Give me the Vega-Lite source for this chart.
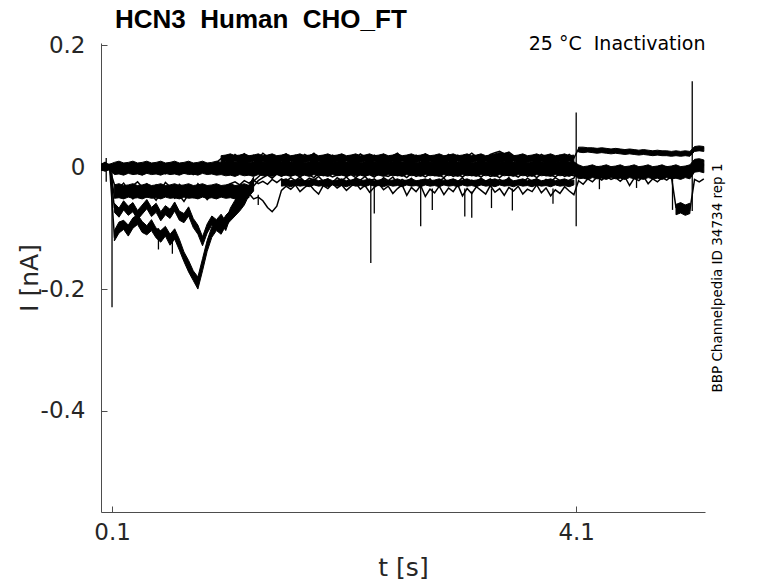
{
  "$schema": "https://vega.github.io/schema/vega-lite/v6.json",
  "description": "HCN3 Human CHO_FT inactivation current traces",
  "width": 604,
  "height": 469,
  "autosize": {"type": "none"},
  "padding": {"left": 101, "top": 43, "right": 73, "bottom": 71},
  "title": {
    "text": "HCN3 \u00a0Human \u00a0CHO_FT",
    "anchor": "start",
    "frame": "group",
    "dx": 14,
    "font": "Liberation Sans",
    "fontSize": 26,
    "fontWeight": "bold",
    "color": "#000000",
    "baseline": "alphabetic",
    "offset": -20
  },
  "config": {"view": {"stroke": null}},
  "datasets": {
    "traces": [
      {"t":0.00,"a":0.003,"b":-0.002,"c":0.004,"d":0.001,"e":-0.002,"f":0.002,"g":0.000,"h":-0.003,"z0":-0.005,"z1":0.005},
      {"t":0.04,"a":0.006,"b":-0.004,"c":0.008,"d":-0.006,"e":0.001,"f":-0.005,"g":0.003,"h":0.002,"z0":-0.006,"z1":0.006},
      {"t":0.08,"a":-0.001,"b":0.003,"c":0.002,"d":-0.003,"e":-0.004,"f":0.004,"g":-0.002,"h":0.001,"z0":-0.004,"z1":0.005},
      {"t":0.12,"a":0.004,"b":-0.003,"c":0.005,"d":-0.009,"e":-0.028,"f":-0.048,"g":-0.112,"h":-0.066,"z0":-0.012,"z1":0.008,"l0":-0.051,"l1":-0.029,"g0":-0.121,"g1":-0.104,"h0":-0.074,"h1":-0.059},
      {"t":0.16,"a":0.001,"b":-0.006,"c":0.002,"d":-0.005,"e":-0.034,"f":-0.041,"g":-0.098,"h":-0.074,"z0":-0.011,"z1":0.010,"l0":-0.050,"l1":-0.027,"g0":-0.108,"g1":-0.090,"h0":-0.082,"h1":-0.067},
      {"t":0.20,"a":0.005,"b":-0.001,"c":0.006,"d":-0.011,"e":-0.026,"f":-0.050,"g":-0.094,"h":-0.062,"z0":-0.013,"z1":0.007,"l0":-0.052,"l1":-0.030,"g0":-0.102,"g1":-0.087,"h0":-0.070,"h1":-0.055},
      {"t":0.24,"a":0.000,"b":-0.005,"c":0.003,"d":-0.007,"e":-0.037,"f":-0.043,"g":-0.103,"h":-0.071,"z0":-0.010,"z1":0.008,"l0":-0.049,"l1":-0.029,"g0":-0.113,"g1":-0.095,"h0":-0.079,"h1":-0.064},
      {"t":0.28,"a":0.003,"b":-0.002,"c":0.007,"d":-0.010,"e":-0.030,"f":-0.052,"g":-0.090,"h":-0.065,"z0":-0.012,"z1":0.010,"l0":-0.051,"l1":-0.027,"g0":-0.100,"g1":-0.083,"h0":-0.073,"h1":-0.058},
      {"t":0.32,"a":0.002,"b":-0.004,"c":0.004,"d":-0.006,"e":-0.024,"f":-0.044,"g":-0.086,"h":-0.078,"z0":-0.011,"z1":0.007,"l0":-0.050,"l1":-0.030,"g0":-0.094,"g1":-0.078,"h0":-0.086,"h1":-0.071},
      {"t":0.36,"a":0.006,"b":-0.001,"c":0.001,"d":-0.012,"e":-0.033,"f":-0.039,"g":-0.097,"h":-0.069,"z0":-0.013,"z1":0.008,"l0":-0.052,"l1":-0.029,"g0":-0.107,"g1":-0.089,"h0":-0.077,"h1":-0.062},
      {"t":0.40,"a":-0.001,"b":-0.005,"c":0.005,"d":-0.008,"e":-0.027,"f":-0.049,"g":-0.102,"h":-0.060,"z0":-0.010,"z1":0.010,"l0":-0.049,"l1":-0.027,"g0":-0.111,"g1":-0.096,"h0":-0.068,"h1":-0.053},
      {"t":0.44,"a":0.004,"b":-0.003,"c":0.003,"d":-0.005,"e":-0.036,"f":-0.045,"g":-0.094,"h":-0.073,"z0":-0.012,"z1":0.007,"l0":-0.051,"l1":-0.030,"g0":-0.104,"g1":-0.086,"h0":-0.081,"h1":-0.066},
      {"t":0.48,"a":0.001,"b":-0.002,"c":0.006,"d":-0.010,"e":-0.029,"f":-0.054,"g":-0.108,"h":-0.066,"z0":-0.011,"z1":0.008,"l0":-0.050,"l1":-0.029,"g0":-0.116,"g1":-0.100,"h0":-0.074,"h1":-0.059},
      {"t":0.52,"a":0.005,"b":-0.006,"c":0.002,"d":-0.007,"e":-0.038,"f":-0.042,"g":-0.112,"h":-0.080,"z0":-0.013,"z1":0.010,"l0":-0.052,"l1":-0.027,"g0":-0.123,"g1":-0.104,"h0":-0.088,"h1":-0.073},
      {"t":0.56,"a":0.002,"b":-0.001,"c":0.004,"d":-0.011,"e":-0.025,"f":-0.047,"g":-0.104,"h":-0.070,"z0":-0.010,"z1":0.007,"l0":-0.049,"l1":-0.030,"g0":-0.113,"g1":-0.097,"h0":-0.078,"h1":-0.063},
      {"t":0.60,"a":0.000,"b":-0.004,"c":0.007,"d":-0.006,"e":-0.032,"f":-0.040,"g":-0.118,"h":-0.076,"z0":-0.012,"z1":0.008,"l0":-0.051,"l1":-0.029,"g0":-0.128,"g1":-0.110,"h0":-0.084,"h1":-0.069},
      {"t":0.64,"a":0.004,"b":-0.003,"c":0.003,"d":-0.009,"e":-0.040,"f":-0.051,"g":-0.109,"h":-0.064,"z0":-0.011,"z1":0.010,"l0":-0.050,"l1":-0.027,"g0":-0.118,"g1":-0.101,"h0":-0.072,"h1":-0.057},
      {"t":0.68,"a":0.002,"b":-0.005,"c":0.005,"d":-0.006,"e":-0.028,"f":-0.046,"g":-0.126,"h":-0.079,"z0":-0.013,"z1":0.007,"l0":-0.052,"l1":-0.030,"g0":-0.136,"g1":-0.118,"h0":-0.087,"h1":-0.072},
      {"t":0.72,"a":0.005,"b":-0.002,"c":0.002,"d":-0.010,"e":-0.034,"f":-0.056,"g":-0.146,"h":-0.083,"z0":-0.010,"z1":0.008,"l0":-0.049,"l1":-0.029,"g0":-0.155,"g1":-0.139,"h0":-0.091,"h1":-0.076},
      {"t":0.76,"a":0.001,"b":-0.004,"c":0.006,"d":-0.007,"e":-0.030,"f":-0.044,"g":-0.162,"h":-0.072,"z0":-0.012,"z1":0.010,"l0":-0.051,"l1":-0.027,"g0":-0.172,"g1":-0.153,"h0":-0.080,"h1":-0.065},
      {"t":0.80,"a":0.003,"b":-0.001,"c":0.003,"d":-0.012,"e":-0.039,"f":-0.050,"g":-0.178,"h":-0.091,"z0":-0.011,"z1":0.007,"l0":-0.050,"l1":-0.030,"g0":-0.186,"g1":-0.170,"h0":-0.099,"h1":-0.084},
      {"t":0.84,"a":0.000,"b":-0.005,"c":0.005,"d":-0.008,"e":-0.027,"f":-0.048,"g":-0.192,"h":-0.102,"z0":-0.013,"z1":0.008,"l0":-0.052,"l1":-0.029,"g0":-0.200,"g1":-0.180,"h0":-0.110,"h1":-0.095},
      {"t":0.88,"a":0.004,"b":-0.003,"c":0.002,"d":-0.005,"e":-0.035,"f":-0.043,"g":-0.158,"h":-0.121,"z0":-0.010,"z1":0.010,"l0":-0.049,"l1":-0.027,"g0":-0.170,"g1":-0.150,"h0":-0.129,"h1":-0.114},
      {"t":0.92,"a":0.002,"b":-0.002,"c":0.006,"d":-0.010,"e":-0.031,"f":-0.053,"g":-0.128,"h":-0.100,"z0":-0.012,"z1":0.007,"l0":-0.051,"l1":-0.030,"g0":-0.138,"g1":-0.120,"h0":-0.108,"h1":-0.093},
      {"t":0.96,"a":0.005,"b":-0.004,"c":0.004,"d":-0.007,"e":-0.041,"f":-0.045,"g":-0.106,"h":-0.087,"z0":-0.011,"z1":0.008,"l0":-0.050,"l1":-0.029,"g0":-0.115,"g1":-0.098,"h0":-0.095,"h1":-0.080},
      {"t":1.00,"a":0.001,"b":0.001,"c":0.008,"d":-0.011,"e":-0.036,"f":-0.042,"g":-0.094,"h":-0.093,"z0":-0.013,"z1":0.010,"l0":-0.052,"l1":-0.027,"g0":-0.104,"g1":-0.087,"h0":-0.101,"h1":-0.086},
      {"t":1.04,"a":0.003,"b":0.004,"c":0.014,"d":-0.006,"e":-0.044,"f":-0.038,"g":-0.101,"h":-0.084,"z0":-0.012,"z1":0.008,"u0":0.007,"u1":0.019,"l0":-0.049,"l1":-0.030,"g0":-0.110,"g1":-0.093,"h0":-0.092,"h1":-0.077},
      {"t":1.08,"a":0.000,"b":0.007,"c":0.019,"d":-0.009,"e":-0.038,"f":-0.033,"g":-0.086,"h":-0.096,"z0":-0.014,"z1":0.009,"u0":0.009,"u1":0.020,"l0":-0.051,"l1":-0.029,"g0":-0.096,"g1":-0.079,"h0":-0.104,"h1":-0.089},
      {"t":1.12,"a":0.004,"b":0.003,"c":0.013,"d":-0.005,"e":-0.046,"f":-0.027,"g":-0.079,"h":-0.074,"z0":-0.013,"z1":0.011,"u0":0.008,"u1":0.022,"l0":-0.050,"l1":-0.027,"g0":-0.088,"g1":-0.071,"h0":-0.082,"h1":-0.067},
      {"t":1.16,"a":0.002,"b":0.008,"c":0.021,"d":-0.010,"e":-0.041,"f":-0.024,"g":-0.071,"h":-0.061,"z0":-0.015,"z1":0.008,"u0":0.010,"u1":0.019,"l0":-0.052,"l1":-0.030,"g0":-0.080,"g1":-0.064,"h0":-0.069,"h1":-0.054},
      {"t":1.20,"a":0.005,"b":0.005,"c":0.016,"d":-0.007,"e":-0.039,"f":-0.029,"g":-0.063,"h":-0.050,"z0":-0.012,"z1":0.009,"u0":0.007,"u1":0.020,"l0":-0.049,"l1":-0.029,"g0":-0.072,"g1":-0.055,"h0":-0.058,"h1":-0.043},
      {"t":1.24,"a":0.001,"b":0.009,"c":0.022,"d":-0.011,"e":-0.047,"f":-0.022,"g":-0.053,"h":-0.046,"z0":-0.014,"z1":0.011,"u0":0.009,"u1":0.022,"l0":-0.051,"l1":-0.027,"g0":-0.062,"g1":-0.046,"h0":-0.054,"h1":-0.039},
      {"t":1.28,"a":0.003,"b":0.004,"c":0.015,"d":-0.006,"e":-0.043,"f":-0.026,"g":-0.036,"h":-0.040,"z0":-0.013,"z1":0.008,"u0":0.008,"u1":0.019,"l0":-0.050,"l1":-0.030,"g0":-0.046,"g1":-0.029,"h0":-0.048,"h1":-0.033},
      {"t":1.32,"a":0.000,"b":0.007,"c":0.020,"d":-0.009,"e":-0.052,"f":-0.021,"g":-0.023,"h":-0.031,"z0":-0.015,"z1":0.009,"u0":0.010,"u1":0.020,"g0":-0.031,"g1":-0.016,"h0":-0.039,"h1":-0.024},
      {"t":1.36,"a":0.004,"b":0.003,"c":0.014,"d":-0.005,"e":-0.049,"f":-0.027,"g":-0.016,"h":-0.022,"z0":-0.012,"z1":0.011,"u0":0.007,"u1":0.022},
      {"t":1.40,"a":0.002,"b":0.008,"c":0.023,"d":-0.010,"e":-0.055,"f":-0.023,"g":-0.009,"h":-0.017,"z0":-0.014,"z1":0.008,"u0":0.009,"u1":0.019},
      {"t":1.44,"a":0.005,"b":0.005,"c":0.017,"d":-0.007,"e":-0.066,"f":-0.028,"g":-0.005,"h":-0.013,"z0":-0.013,"z1":0.009,"u0":0.008,"u1":0.020},
      {"t":1.48,"a":0.001,"b":0.009,"c":0.019,"d":-0.012,"e":-0.073,"f":-0.020,"g":-0.008,"h":-0.018,"z0":-0.015,"z1":0.011,"u0":0.010,"u1":0.022},
      {"t":1.52,"a":0.003,"b":0.004,"c":0.013,"d":-0.006,"e":-0.064,"f":-0.025,"g":-0.003,"h":-0.011,"z0":-0.012,"z1":0.008,"u0":0.007,"u1":0.019},
      {"t":1.56,"a":0.000,"b":0.007,"c":0.018,"d":-0.009,"e":-0.038,"f":-0.019,"g":-0.007,"h":-0.015,"z0":-0.014,"z1":0.009,"u0":0.009,"u1":0.020,"m0":-0.031,"m1":-0.021},
      {"t":1.60,"a":0.004,"b":0.003,"c":0.022,"d":-0.005,"e":-0.031,"f":-0.023,"g":-0.002,"h":-0.010,"z0":-0.013,"z1":0.011,"u0":0.008,"u1":0.022,"m0":-0.030,"m1":-0.019},
      {"t":1.64,"a":0.002,"b":0.008,"c":0.015,"d":-0.010,"e":-0.036,"f":-0.017,"g":-0.006,"h":-0.014,"z0":-0.015,"z1":0.008,"u0":0.010,"u1":0.019,"m0":-0.032,"m1":-0.022},
      {"t":1.68,"a":0.005,"b":0.005,"c":0.020,"d":-0.007,"e":-0.029,"f":-0.022,"g":-0.001,"h":-0.012,"z0":-0.012,"z1":0.009,"u0":0.007,"u1":0.020,"m0":-0.029,"m1":-0.021},
      {"t":1.72,"a":0.001,"b":0.009,"c":0.014,"d":-0.011,"e":-0.040,"f":-0.016,"g":-0.005,"h":-0.016,"z0":-0.014,"z1":0.011,"u0":0.009,"u1":0.022,"m0":-0.031,"m1":-0.019},
      {"t":1.76,"a":0.003,"b":0.004,"c":0.021,"d":-0.006,"e":-0.033,"f":-0.024,"g":-0.002,"h":-0.011,"z0":-0.013,"z1":0.008,"u0":0.008,"u1":0.019,"m0":-0.030,"m1":-0.022},
      {"t":1.80,"a":0.000,"b":0.007,"c":0.017,"d":-0.009,"e":-0.028,"f":-0.018,"g":-0.008,"h":-0.013,"z0":-0.015,"z1":0.009,"u0":0.010,"u1":0.020,"m0":-0.032,"m1":-0.021},
      {"t":1.84,"a":0.004,"b":0.003,"c":0.023,"d":-0.005,"e":-0.037,"f":-0.021,"g":-0.003,"h":-0.017,"z0":-0.012,"z1":0.011,"u0":0.007,"u1":0.022,"m0":-0.029,"m1":-0.019},
      {"t":1.88,"a":0.002,"b":0.008,"c":0.016,"d":-0.010,"e":-0.044,"f":-0.015,"g":-0.006,"h":-0.010,"z0":-0.014,"z1":0.008,"u0":0.009,"u1":0.019,"m0":-0.031,"m1":-0.022},
      {"t":1.92,"a":0.005,"b":0.005,"c":0.019,"d":-0.007,"e":-0.030,"f":-0.023,"g":-0.001,"h":-0.014,"z0":-0.013,"z1":0.009,"u0":0.008,"u1":0.020,"m0":-0.030,"m1":-0.021},
      {"t":1.96,"a":0.001,"b":0.009,"c":0.013,"d":-0.012,"e":-0.035,"f":-0.019,"g":-0.007,"h":-0.012,"z0":-0.015,"z1":0.011,"u0":0.010,"u1":0.022,"m0":-0.032,"m1":-0.019},
      {"t":2.00,"a":0.003,"b":0.004,"c":0.020,"d":-0.006,"e":-0.027,"f":-0.025,"g":-0.002,"h":-0.016,"z0":-0.012,"z1":0.008,"u0":0.007,"u1":0.019,"m0":-0.029,"m1":-0.022},
      {"t":2.04,"a":0.000,"b":0.007,"c":0.016,"d":-0.009,"e":-0.034,"f":-0.017,"g":-0.004,"h":-0.013,"z0":-0.014,"z1":0.009,"u0":0.009,"u1":0.020,"m0":-0.031,"m1":-0.021},
      {"t":2.08,"a":0.004,"b":0.003,"c":0.021,"d":-0.005,"e":-0.029,"f":-0.022,"g":-0.001,"h":-0.010,"z0":-0.013,"z1":0.011,"u0":0.008,"u1":0.022,"m0":-0.030,"m1":-0.019},
      {"t":2.12,"a":0.002,"b":0.008,"c":0.014,"d":-0.010,"e":-0.038,"f":-0.016,"g":-0.006,"h":-0.015,"z0":-0.015,"z1":0.008,"u0":0.010,"u1":0.019,"m0":-0.032,"m1":-0.022},
      {"t":2.16,"a":0.005,"b":0.005,"c":0.019,"d":-0.007,"e":-0.031,"f":-0.024,"g":-0.002,"h":-0.012,"z0":-0.012,"z1":0.009,"u0":0.007,"u1":0.020,"m0":-0.029,"m1":-0.021},
      {"t":2.20,"a":0.001,"b":0.009,"c":0.015,"d":-0.011,"e":-0.026,"f":-0.018,"g":-0.007,"h":-0.017,"z0":-0.014,"z1":0.011,"u0":0.009,"u1":0.022,"m0":-0.031,"m1":-0.019},
      {"t":2.24,"a":0.003,"b":0.004,"c":0.022,"d":-0.006,"e":-0.036,"f":-0.021,"g":-0.003,"h":-0.011,"z0":-0.013,"z1":0.008,"u0":0.008,"u1":0.019,"m0":-0.030,"m1":-0.022},
      {"t":2.28,"a":0.000,"b":0.007,"c":0.017,"d":-0.009,"e":-0.030,"f":-0.015,"g":-0.005,"h":-0.014,"z0":-0.015,"z1":0.009,"u0":0.010,"u1":0.020,"m0":-0.032,"m1":-0.021},
      {"t":2.32,"a":0.004,"b":0.003,"c":0.013,"d":-0.005,"e":-0.041,"f":-0.023,"g":-0.001,"h":-0.012,"z0":-0.012,"z1":0.011,"u0":0.007,"u1":0.022,"m0":-0.029,"m1":-0.019},
      {"t":2.36,"a":0.002,"b":0.008,"c":0.020,"d":-0.010,"e":-0.033,"f":-0.019,"g":-0.006,"h":-0.016,"z0":-0.014,"z1":0.008,"u0":0.009,"u1":0.019,"m0":-0.031,"m1":-0.022},
      {"t":2.40,"a":0.005,"b":0.005,"c":0.016,"d":-0.007,"e":-0.027,"f":-0.025,"g":-0.002,"h":-0.010,"z0":-0.013,"z1":0.009,"u0":0.008,"u1":0.020,"m0":-0.030,"m1":-0.021},
      {"t":2.44,"a":0.001,"b":0.009,"c":0.021,"d":-0.012,"e":-0.037,"f":-0.017,"g":-0.007,"h":-0.013,"z0":-0.015,"z1":0.011,"u0":0.010,"u1":0.022,"m0":-0.032,"m1":-0.019},
      {"t":2.48,"a":0.003,"b":0.004,"c":0.014,"d":-0.006,"e":-0.031,"f":-0.022,"g":-0.003,"h":-0.015,"z0":-0.012,"z1":0.008,"u0":0.007,"u1":0.019,"m0":-0.029,"m1":-0.022},
      {"t":2.52,"a":0.000,"b":0.007,"c":0.019,"d":-0.009,"e":-0.043,"f":-0.016,"g":-0.005,"h":-0.011,"z0":-0.014,"z1":0.009,"u0":0.009,"u1":0.020,"m0":-0.031,"m1":-0.021},
      {"t":2.56,"a":0.004,"b":0.003,"c":0.023,"d":-0.005,"e":-0.035,"f":-0.026,"g":-0.001,"h":-0.014,"z0":-0.013,"z1":0.011,"u0":0.008,"u1":0.022,"m0":-0.030,"m1":-0.019},
      {"t":2.60,"a":0.002,"b":0.008,"c":0.015,"d":-0.010,"e":-0.029,"f":-0.020,"g":-0.006,"h":-0.012,"z0":-0.015,"z1":0.008,"u0":0.010,"u1":0.019,"m0":-0.032,"m1":-0.022},
      {"t":2.64,"a":0.005,"b":0.005,"c":0.018,"d":-0.007,"e":-0.046,"f":-0.024,"g":-0.002,"h":-0.017,"z0":-0.012,"z1":0.009,"u0":0.007,"u1":0.020,"m0":-0.029,"m1":-0.021},
      {"t":2.68,"a":0.001,"b":0.009,"c":0.013,"d":-0.011,"e":-0.033,"f":-0.018,"g":-0.007,"h":-0.010,"z0":-0.014,"z1":0.011,"u0":0.009,"u1":0.022,"m0":-0.031,"m1":-0.019},
      {"t":2.72,"a":0.003,"b":0.004,"c":0.020,"d":-0.006,"e":-0.040,"f":-0.027,"g":-0.003,"h":-0.015,"z0":-0.013,"z1":0.008,"u0":0.008,"u1":0.019,"m0":-0.030,"m1":-0.022},
      {"t":2.76,"a":0.000,"b":0.007,"c":0.016,"d":-0.009,"e":-0.030,"f":-0.021,"g":-0.005,"h":-0.012,"z0":-0.015,"z1":0.009,"u0":0.010,"u1":0.020,"m0":-0.032,"m1":-0.021},
      {"t":2.80,"a":0.004,"b":0.003,"c":0.022,"d":-0.005,"e":-0.048,"f":-0.025,"g":-0.001,"h":-0.016,"z0":-0.012,"z1":0.011,"u0":0.007,"u1":0.022,"m0":-0.029,"m1":-0.019},
      {"t":2.84,"a":0.002,"b":0.008,"c":0.017,"d":-0.010,"e":-0.036,"f":-0.019,"g":-0.006,"h":-0.011,"z0":-0.014,"z1":0.008,"u0":0.009,"u1":0.019,"m0":-0.031,"m1":-0.022},
      {"t":2.88,"a":0.005,"b":0.005,"c":0.014,"d":-0.007,"e":-0.042,"f":-0.028,"g":-0.002,"h":-0.014,"z0":-0.013,"z1":0.009,"u0":0.008,"u1":0.020,"m0":-0.030,"m1":-0.021},
      {"t":2.92,"a":0.001,"b":0.009,"c":0.019,"d":-0.012,"e":-0.031,"f":-0.022,"g":-0.007,"h":-0.013,"z0":-0.015,"z1":0.011,"u0":0.010,"u1":0.022,"m0":-0.032,"m1":-0.019},
      {"t":2.96,"a":0.003,"b":0.004,"c":0.015,"d":-0.006,"e":-0.045,"f":-0.018,"g":-0.003,"h":-0.017,"z0":-0.012,"z1":0.008,"u0":0.007,"u1":0.019,"m0":-0.029,"m1":-0.022},
      {"t":3.00,"a":0.000,"b":0.007,"c":0.021,"d":-0.009,"e":-0.034,"f":-0.026,"g":-0.005,"h":-0.010,"z0":-0.014,"z1":0.009,"u0":0.009,"u1":0.020,"m0":-0.031,"m1":-0.021},
      {"t":3.04,"a":0.004,"b":0.003,"c":0.016,"d":-0.005,"e":-0.040,"f":-0.020,"g":-0.001,"h":-0.015,"z0":-0.013,"z1":0.011,"u0":0.008,"u1":0.022,"m0":-0.030,"m1":-0.019},
      {"t":3.08,"a":0.002,"b":0.008,"c":0.020,"d":-0.010,"e":-0.029,"f":-0.024,"g":-0.006,"h":-0.012,"z0":-0.015,"z1":0.008,"u0":0.010,"u1":0.019,"m0":-0.032,"m1":-0.022},
      {"t":3.12,"a":0.005,"b":0.005,"c":0.014,"d":-0.007,"e":-0.047,"f":-0.017,"g":-0.002,"h":-0.016,"z0":-0.012,"z1":0.009,"u0":0.007,"u1":0.020,"m0":-0.029,"m1":-0.021},
      {"t":3.16,"a":0.001,"b":0.009,"c":0.018,"d":-0.011,"e":-0.035,"f":-0.027,"g":-0.007,"h":-0.011,"z0":-0.014,"z1":0.011,"u0":0.009,"u1":0.022,"m0":-0.031,"m1":-0.019},
      {"t":3.20,"a":0.003,"b":0.004,"c":0.023,"d":-0.006,"e":-0.043,"f":-0.021,"g":-0.003,"h":-0.014,"z0":-0.013,"z1":0.008,"u0":0.008,"u1":0.019,"m0":-0.030,"m1":-0.022},
      {"t":3.24,"a":0.000,"b":0.007,"c":0.017,"d":-0.009,"e":-0.032,"f":-0.025,"g":-0.005,"h":-0.012,"z0":-0.015,"z1":0.009,"u0":0.010,"u1":0.020,"m0":-0.032,"m1":-0.021},
      {"t":3.28,"a":0.004,"b":0.003,"c":0.020,"d":-0.005,"e":-0.038,"f":-0.018,"g":-0.001,"h":-0.016,"z0":-0.012,"z1":0.011,"u0":0.007,"u1":0.022,"m0":-0.029,"m1":-0.019},
      {"t":3.32,"a":0.002,"b":0.008,"c":0.015,"d":-0.010,"e":-0.044,"f":-0.023,"g":-0.006,"h":-0.010,"z0":-0.014,"z1":0.008,"u0":0.009,"u1":0.019,"m0":-0.031,"m1":-0.022},
      {"t":3.36,"a":0.005,"b":0.005,"c":0.021,"d":-0.007,"e":-0.030,"f":-0.019,"g":-0.002,"h":-0.015,"z0":-0.013,"z1":0.009,"u0":0.008,"u1":0.020,"m0":-0.030,"m1":-0.021},
      {"t":3.40,"a":0.001,"b":0.009,"c":0.024,"d":-0.012,"e":-0.041,"f":-0.026,"g":-0.007,"h":-0.013,"z0":-0.015,"z1":0.011,"u0":0.010,"u1":0.022,"m0":-0.032,"m1":-0.019},
      {"t":3.44,"a":0.003,"b":0.004,"c":0.026,"d":-0.006,"e":-0.035,"f":-0.020,"g":-0.003,"h":-0.017,"z0":-0.012,"z1":0.008,"u0":0.007,"u1":0.024,"m0":-0.029,"m1":-0.022},
      {"t":3.48,"a":0.000,"b":0.007,"c":0.022,"d":-0.009,"e":-0.046,"f":-0.024,"g":-0.005,"h":-0.011,"z0":-0.014,"z1":0.009,"u0":0.009,"u1":0.023,"m0":-0.031,"m1":-0.021},
      {"t":3.52,"a":0.004,"b":0.003,"c":0.025,"d":-0.005,"e":-0.033,"f":-0.017,"g":-0.001,"h":-0.014,"z0":-0.013,"z1":0.011,"u0":0.008,"u1":0.024,"m0":-0.030,"m1":-0.019},
      {"t":3.56,"a":0.002,"b":0.008,"c":0.019,"d":-0.010,"e":-0.039,"f":-0.027,"g":-0.006,"h":-0.012,"z0":-0.015,"z1":0.008,"u0":0.010,"u1":0.019,"m0":-0.032,"m1":-0.022},
      {"t":3.60,"a":0.005,"b":0.005,"c":0.016,"d":-0.007,"e":-0.031,"f":-0.021,"g":-0.002,"h":-0.016,"z0":-0.012,"z1":0.009,"u0":0.007,"u1":0.020,"m0":-0.029,"m1":-0.021},
      {"t":3.64,"a":0.001,"b":0.009,"c":0.020,"d":-0.011,"e":-0.044,"f":-0.025,"g":-0.007,"h":-0.010,"z0":-0.014,"z1":0.011,"u0":0.009,"u1":0.022,"m0":-0.031,"m1":-0.019},
      {"t":3.68,"a":0.003,"b":0.004,"c":0.014,"d":-0.006,"e":-0.036,"f":-0.018,"g":-0.003,"h":-0.015,"z0":-0.013,"z1":0.008,"u0":0.008,"u1":0.019,"m0":-0.030,"m1":-0.022},
      {"t":3.72,"a":0.000,"b":0.007,"c":0.018,"d":-0.009,"e":-0.040,"f":-0.023,"g":-0.005,"h":-0.012,"z0":-0.015,"z1":0.009,"u0":0.010,"u1":0.020,"m0":-0.032,"m1":-0.021},
      {"t":3.76,"a":0.004,"b":0.003,"c":0.015,"d":-0.005,"e":-0.029,"f":-0.019,"g":-0.001,"h":-0.017,"z0":-0.012,"z1":0.011,"u0":0.007,"u1":0.022,"m0":-0.029,"m1":-0.019},
      {"t":3.80,"a":0.002,"b":0.008,"c":0.021,"d":-0.010,"e":-0.042,"f":-0.026,"g":-0.006,"h":-0.011,"z0":-0.014,"z1":0.008,"u0":0.009,"u1":0.019,"m0":-0.031,"m1":-0.022},
      {"t":3.84,"a":0.005,"b":0.005,"c":0.017,"d":-0.007,"e":-0.034,"f":-0.020,"g":-0.002,"h":-0.014,"z0":-0.013,"z1":0.009,"u0":0.008,"u1":0.020,"m0":-0.030,"m1":-0.021},
      {"t":3.88,"a":0.001,"b":0.009,"c":0.019,"d":-0.012,"e":-0.047,"f":-0.024,"g":-0.007,"h":-0.013,"z0":-0.015,"z1":0.011,"u0":0.010,"u1":0.022,"m0":-0.032,"m1":-0.019},
      {"t":3.92,"a":0.003,"b":0.004,"c":0.014,"d":-0.006,"e":-0.037,"f":-0.017,"g":-0.003,"h":-0.016,"z0":-0.012,"z1":0.008,"u0":0.007,"u1":0.019,"m0":-0.029,"m1":-0.022},
      {"t":3.96,"a":0.000,"b":0.007,"c":0.020,"d":-0.009,"e":-0.043,"f":-0.022,"g":-0.005,"h":-0.010,"z0":-0.014,"z1":0.009,"u0":0.009,"u1":0.020,"m0":-0.031,"m1":-0.021},
      {"t":4.00,"a":0.004,"b":0.003,"c":0.016,"d":-0.005,"e":-0.032,"f":-0.027,"g":-0.001,"h":-0.015,"z0":-0.013,"z1":0.011,"u0":0.008,"u1":0.022,"m0":-0.030,"m1":-0.019},
      {"t":4.04,"a":0.002,"b":0.008,"c":0.021,"d":-0.010,"e":-0.039,"f":-0.021,"g":-0.006,"h":-0.012,"z0":-0.015,"z1":0.008,"u0":0.010,"u1":0.019,"m0":-0.032,"m1":-0.022},
      {"t":4.08,"a":0.005,"b":0.005,"c":0.015,"d":-0.007,"e":-0.045,"f":-0.018,"g":-0.002,"h":-0.014,"z0":-0.012,"z1":0.009,"u0":0.007,"u1":0.020,"m0":-0.029,"m1":-0.021},
      {"t":4.12,"a":-0.001,"b":-0.007,"c":0.030,"d":-0.013,"e":-0.022,"f":-0.004,"g":-0.008,"h":-0.010,"z0":-0.019,"z1":0.004,"p0":0.025,"p1":0.033},
      {"t":4.16,"a":-0.003,"b":-0.009,"c":0.027,"d":-0.011,"e":-0.028,"f":-0.006,"g":-0.006,"h":-0.012,"z0":-0.018,"z1":0.001,"p0":0.024,"p1":0.033},
      {"t":4.20,"a":0.000,"b":-0.006,"c":0.029,"d":-0.014,"e":-0.019,"f":-0.003,"g":-0.009,"h":-0.009,"z0":-0.020,"z1":0.002,"p0":0.025,"p1":0.032},
      {"t":4.24,"a":-0.002,"b":-0.010,"c":0.026,"d":-0.012,"e":-0.024,"f":-0.005,"g":-0.007,"h":-0.011,"z0":-0.017,"z1":0.004,"p0":0.024,"p1":0.032},
      {"t":4.28,"a":0.001,"b":-0.008,"c":0.028,"d":-0.010,"e":-0.016,"f":-0.002,"g":-0.005,"h":-0.013,"z0":-0.019,"z1":0.001,"p0":0.023,"p1":0.031},
      {"t":4.32,"a":-0.003,"b":-0.006,"c":0.027,"d":-0.013,"e":-0.021,"f":-0.006,"g":-0.008,"h":-0.010,"z0":-0.018,"z1":0.002,"p0":0.024,"p1":0.032},
      {"t":4.36,"a":-0.001,"b":-0.009,"c":0.029,"d":-0.011,"e":-0.015,"f":-0.004,"g":-0.006,"h":-0.012,"z0":-0.020,"z1":0.004,"p0":0.023,"p1":0.031},
      {"t":4.40,"a":0.000,"b":-0.007,"c":0.025,"d":-0.014,"e":-0.020,"f":-0.003,"g":-0.009,"h":-0.009,"z0":-0.017,"z1":0.001,"p0":0.022,"p1":0.030},
      {"t":4.44,"a":-0.002,"b":-0.010,"c":0.027,"d":-0.012,"e":-0.017,"f":-0.005,"g":-0.007,"h":-0.011,"z0":-0.019,"z1":0.002,"p0":0.023,"p1":0.031},
      {"t":4.48,"a":0.001,"b":-0.008,"c":0.024,"d":-0.010,"e":-0.023,"f":-0.002,"g":-0.005,"h":-0.013,"z0":-0.018,"z1":0.004,"p0":0.022,"p1":0.030},
      {"t":4.52,"a":-0.003,"b":-0.006,"c":0.026,"d":-0.013,"e":-0.016,"f":-0.006,"g":-0.008,"h":-0.010,"z0":-0.020,"z1":0.001,"p0":0.021,"p1":0.029},
      {"t":4.56,"a":-0.001,"b":-0.009,"c":0.024,"d":-0.011,"e":-0.030,"f":-0.004,"g":-0.006,"h":-0.012,"z0":-0.017,"z1":0.002,"p0":0.022,"p1":0.030},
      {"t":4.60,"a":0.000,"b":-0.007,"c":0.025,"d":-0.014,"e":-0.018,"f":-0.003,"g":-0.009,"h":-0.009,"z0":-0.019,"z1":0.004,"p0":0.021,"p1":0.029},
      {"t":4.64,"a":-0.002,"b":-0.010,"c":0.023,"d":-0.012,"e":-0.022,"f":-0.005,"g":-0.007,"h":-0.011,"z0":-0.018,"z1":0.001,"p0":0.020,"p1":0.028},
      {"t":4.68,"a":0.001,"b":-0.008,"c":0.024,"d":-0.010,"e":-0.015,"f":-0.002,"g":-0.005,"h":-0.013,"z0":-0.020,"z1":0.002,"p0":0.021,"p1":0.029},
      {"t":4.72,"a":-0.003,"b":-0.006,"c":0.022,"d":-0.013,"e":-0.027,"f":-0.006,"g":-0.008,"h":-0.010,"z0":-0.017,"z1":0.004,"p0":0.020,"p1":0.028},
      {"t":4.76,"a":-0.001,"b":-0.009,"c":0.023,"d":-0.011,"e":-0.019,"f":-0.004,"g":-0.006,"h":-0.012,"z0":-0.019,"z1":0.001,"p0":0.019,"p1":0.027},
      {"t":4.80,"a":0.000,"b":-0.007,"c":0.021,"d":-0.014,"e":-0.024,"f":-0.003,"g":-0.009,"h":-0.009,"z0":-0.018,"z1":0.002,"p0":0.020,"p1":0.028},
      {"t":4.84,"a":-0.002,"b":-0.010,"c":0.024,"d":-0.012,"e":-0.017,"f":-0.005,"g":-0.007,"h":-0.011,"z0":-0.020,"z1":0.004,"p0":0.019,"p1":0.027},
      {"t":4.88,"a":0.001,"b":-0.008,"c":0.022,"d":-0.010,"e":-0.021,"f":-0.002,"g":-0.005,"h":-0.013,"z0":-0.017,"z1":0.001,"p0":0.019,"p1":0.027},
      {"t":4.92,"a":-0.003,"b":-0.006,"c":0.021,"d":-0.013,"e":-0.015,"f":-0.006,"g":-0.008,"h":-0.010,"z0":-0.019,"z1":0.002,"p0":0.018,"p1":0.026},
      {"t":4.96,"a":-0.001,"b":-0.009,"c":0.023,"d":-0.011,"e":-0.066,"f":-0.004,"g":-0.006,"h":-0.012,"z0":-0.018,"z1":0.004,"p0":0.019,"p1":0.027,"q0":-0.078,"q1":-0.061},
      {"t":5.00,"a":0.000,"b":-0.007,"c":0.022,"d":-0.014,"e":-0.072,"f":-0.003,"g":-0.009,"h":-0.009,"z0":-0.020,"z1":0.001,"p0":0.018,"p1":0.026,"q0":-0.075,"q1":-0.058},
      {"t":5.04,"a":-0.002,"b":-0.010,"c":0.024,"d":-0.012,"e":-0.063,"f":-0.005,"g":-0.007,"h":-0.011,"z0":-0.017,"z1":0.002,"p0":0.019,"p1":0.027,"q0":-0.079,"q1":-0.062},
      {"t":5.08,"a":0.001,"b":-0.008,"c":0.021,"d":-0.010,"e":-0.070,"f":-0.002,"g":-0.005,"h":-0.013,"z0":-0.019,"z1":0.004,"p0":0.018,"p1":0.026,"q0":-0.076,"q1":-0.059},
      {"t":5.12,"a":0.006,"b":0.010,"c":0.031,"d":0.000,"e":-0.020,"f":0.002,"g":0.004,"h":0.002,"z0":-0.008,"z1":0.013,"p0":0.026,"p1":0.034},
      {"t":5.16,"a":0.003,"b":0.007,"c":0.028,"d":-0.002,"e":-0.024,"f":0.005,"g":0.001,"h":-0.001,"z0":-0.007,"z1":0.014,"p0":0.027,"p1":0.035},
      {"t":5.20,"a":0.005,"b":0.011,"c":0.032,"d":0.001,"e":-0.019,"f":0.003,"g":0.006,"h":0.004,"z0":-0.009,"z1":0.012,"p0":0.026,"p1":0.034}
    ],
    "spikes": [
      {"t":0.05,"lo":-0.024,"hi":0.015},
      {"t":0.1,"lo":-0.23,"hi":0.004},
      {"t":0.5,"lo":-0.135,"hi":-0.1},
      {"t":0.62,"lo":-0.142,"hi":-0.11},
      {"t":1.36,"lo":-0.062,"hi":-0.045},
      {"t":2.33,"lo":-0.157,"hi":-0.025},
      {"t":2.36,"lo":-0.076,"hi":-0.03},
      {"t":2.76,"lo":-0.097,"hi":-0.03},
      {"t":2.86,"lo":-0.07,"hi":-0.035},
      {"t":3.14,"lo":-0.081,"hi":-0.035},
      {"t":3.2,"lo":-0.083,"hi":-0.04},
      {"t":3.37,"lo":-0.067,"hi":-0.035},
      {"t":3.55,"lo":-0.071,"hi":-0.035},
      {"t":3.9,"lo":-0.06,"hi":-0.035},
      {"t":4.1,"lo":-0.097,"hi":0.09},
      {"t":4.3,"lo":-0.036,"hi":-0.018},
      {"t":4.62,"lo":-0.034,"hi":-0.016},
      {"t":4.93,"lo":-0.07,"hi":-0.012},
      {"t":5.1,"lo":-0.072,"hi":0.141}
    ]
  },
  "layer": [
    {
      "layer": [
        {
          "data": {"name": "traces"},
          "transform": [{"fold": ["a", "b", "c", "d", "e", "f", "g", "h"], "as": ["sweep", "I"]}],
          "mark": {"type": "line", "color": "#000000", "strokeWidth": 1.5, "clip": true},
          "encoding": {
            "x": {
              "field": "t",
              "type": "quantitative",
              "title": "t [s]",
              "scale": {"domain": [0.005, 5.21], "nice": false, "zero": false},
              "axis": {
                "values": [0.1, 4.1],
                "format": ".1f",
                "grid": false,
                "tickSize": -6,
                "tickColor": "#4d4d4d",
                "domainColor": "#4d4d4d",
                "labelFont": "DejaVu Sans",
                "labelFontSize": 23,
                "labelColor": "#262626",
                "labelPadding": 15,
                "titleFont": "DejaVu Sans",
                "titleFontSize": 25,
                "titleFontWeight": "normal",
                "titleColor": "#262626",
                "titlePadding": 11
              }
            },
            "y": {
              "field": "I",
              "type": "quantitative",
              "title": "I [nA]",
              "scale": {"domain": [-0.566, 0.204], "nice": false, "zero": false},
              "axis": {
                "values": [-0.4, -0.2, 0, 0.2],
                "labelExpr": "datum.value == 0 ? '0' : (datum.value < 0 ? '-' + format(-datum.value, '.1f') : format(datum.value, '.1f'))",
                "grid": false,
                "tickSize": -6,
                "tickColor": "#4d4d4d",
                "domainColor": "#4d4d4d",
                "labelFont": "DejaVu Sans",
                "labelFontSize": 23,
                "labelColor": "#262626",
                "labelPadding": 22,
                "titleFont": "DejaVu Sans",
                "titleFontSize": 25,
                "titleFontWeight": "normal",
                "titleColor": "#262626",
                "titlePadding": -2
              }
            },
            "detail": {"field": "sweep"}
          }
        },
        {
          "data": {"name": "traces"},
          "mark": {"type": "area", "color": "#000000", "stroke": "#000000", "strokeWidth": 1, "clip": true},
          "encoding": {
            "x": {"field": "t", "type": "quantitative", "title": "t [s]"},
            "y": {"field": "z0", "type": "quantitative", "title": "I [nA]"},
            "y2": {"field": "z1"}
          }
        },
        {
          "data": {"name": "traces"},
          "transform": [{"filter": "isValid(datum.u0)"}],
          "mark": {"type": "area", "color": "#000000", "stroke": "#000000", "strokeWidth": 1, "clip": true},
          "encoding": {
            "x": {"field": "t", "type": "quantitative", "title": "t [s]"},
            "y": {"field": "u0", "type": "quantitative", "title": "I [nA]"},
            "y2": {"field": "u1"}
          }
        },
        {
          "data": {"name": "traces"},
          "transform": [{"filter": "isValid(datum.l0)"}],
          "mark": {"type": "area", "color": "#000000", "stroke": "#000000", "strokeWidth": 1, "clip": true},
          "encoding": {
            "x": {"field": "t", "type": "quantitative", "title": "t [s]"},
            "y": {"field": "l0", "type": "quantitative", "title": "I [nA]"},
            "y2": {"field": "l1"}
          }
        },
        {
          "data": {"name": "traces"},
          "transform": [{"filter": "isValid(datum.g0)"}],
          "mark": {"type": "area", "color": "#000000", "stroke": "#000000", "strokeWidth": 1, "clip": true},
          "encoding": {
            "x": {"field": "t", "type": "quantitative", "title": "t [s]"},
            "y": {"field": "g0", "type": "quantitative", "title": "I [nA]"},
            "y2": {"field": "g1"}
          }
        },
        {
          "data": {"name": "traces"},
          "transform": [{"filter": "isValid(datum.h0)"}],
          "mark": {"type": "area", "color": "#000000", "stroke": "#000000", "strokeWidth": 1, "clip": true},
          "encoding": {
            "x": {"field": "t", "type": "quantitative", "title": "t [s]"},
            "y": {"field": "h0", "type": "quantitative", "title": "I [nA]"},
            "y2": {"field": "h1"}
          }
        },
        {
          "data": {"name": "traces"},
          "transform": [{"filter": "isValid(datum.m0)"}],
          "mark": {"type": "area", "color": "#000000", "stroke": "#000000", "strokeWidth": 1, "clip": true},
          "encoding": {
            "x": {"field": "t", "type": "quantitative", "title": "t [s]"},
            "y": {"field": "m0", "type": "quantitative", "title": "I [nA]"},
            "y2": {"field": "m1"}
          }
        },
        {
          "data": {"name": "traces"},
          "transform": [{"filter": "isValid(datum.p0)"}],
          "mark": {"type": "area", "color": "#000000", "stroke": "#000000", "strokeWidth": 1, "clip": true},
          "encoding": {
            "x": {"field": "t", "type": "quantitative", "title": "t [s]"},
            "y": {"field": "p0", "type": "quantitative", "title": "I [nA]"},
            "y2": {"field": "p1"}
          }
        },
        {
          "data": {"name": "traces"},
          "transform": [{"filter": "isValid(datum.q0)"}],
          "mark": {"type": "area", "color": "#000000", "stroke": "#000000", "strokeWidth": 1, "clip": true},
          "encoding": {
            "x": {"field": "t", "type": "quantitative", "title": "t [s]"},
            "y": {"field": "q0", "type": "quantitative", "title": "I [nA]"},
            "y2": {"field": "q1"}
          }
        },
        {
          "data": {"name": "spikes"},
          "mark": {"type": "rule", "color": "#000000", "strokeWidth": 1.3, "clip": true},
          "encoding": {
            "x": {"field": "t", "type": "quantitative", "title": "t [s]"},
            "y": {"field": "lo", "type": "quantitative", "title": "I [nA]"},
            "y2": {"field": "hi"}
          }
        }
      ]
    },
    {
      "data": {"name": "spikes"},
      "mark": {"type": "point", "opacity": 0},
      "encoding": {
        "x": {
          "field": "t",
          "type": "quantitative",
          "scale": {"domain": [0.005, 5.21], "nice": false, "zero": false},
          "axis": {
            "orient": "top",
            "title": "25 °C \u00a0Inactivation",
            "ticks": false,
            "labels": false,
            "domain": false,
            "grid": false,
            "titleAnchor": "end",
            "titleFont": "DejaVu Sans",
            "titleFontSize": 19,
            "titleFontWeight": "normal",
            "titleColor": "#000000",
            "titleBaseline": "alphabetic",
            "titlePadding": -6
          }
        },
        "y": {
          "field": "lo",
          "type": "quantitative",
          "scale": {"domain": [-0.566, 0.204], "nice": false, "zero": false},
          "axis": {
            "orient": "right",
            "title": "BBP Channelpedia ID 34734 rep 1",
            "ticks": false,
            "labels": false,
            "domain": false,
            "grid": false,
            "titleAngle": 270,
            "titleBaseline": "middle",
            "titleFont": "DejaVu Sans",
            "titleFontSize": 13.5,
            "titleFontWeight": "normal",
            "titleColor": "#000000",
            "titlePadding": 12
          }
        }
      }
    }
  ],
  "resolve": {"scale": {"x": "independent", "y": "independent"}}
}
